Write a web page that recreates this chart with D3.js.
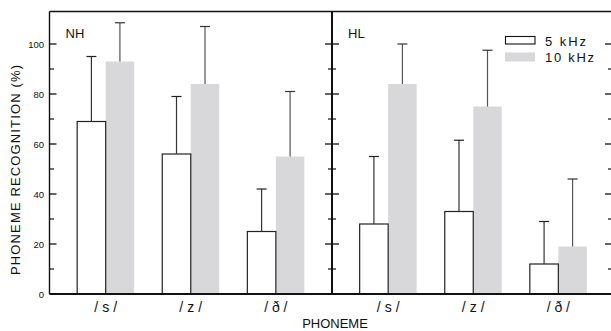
<!DOCTYPE html>
<html><head><meta charset="utf-8">
<script src="https://cdn.jsdelivr.net/npm/d3@7"></script>
<style>
html,body{margin:0;padding:0;background:#fff;}
svg{display:block;font-family:"Liberation Sans",Arial,sans-serif;}
</style></head>
<body><svg id="c" width="611" height="331"></svg>
<script>
const categories = ["/s/", "/z/", "/ð/"];
const panels = ["NH", "HL"];
const series = ["5 kHz", "10 kHz"];
// means and SDs (upper error bars) per panel
const nh5 = [69, 56, 25];
const nh5sd = [26, 23, 17];
const nh10 = [93, 84, 55];
const nh10sd = [15.5, 23, 26];
const hl5 = [28, 33, 12];
const hl5sd = [27, 28.5, 17];
const hl10 = [84, 75, 19];
const hl10sd = [16, 22.5, 27];
const yTicks = [0, 20, 40, 60, 80, 100];
const yMinor = [10, 30, 50, 70, 90];

const svg = d3.select("#c");
const panelW = 282.5;
const left0 = 49.5;
const y = d3.scaleLinear().domain([0, 113]).range([294, 11.5]);
const panelData = [
  {name: panels[0], s5: nh5, e5: nh5sd, s10: nh10, e10: nh10sd, left: left0},
  {name: panels[1], s5: hl5, e5: hl5sd, s10: hl10, e10: hl10sd, left: left0 + panelW}
];
const bw = 28.5, cap = 5;

panelData.forEach(p => {
  const x = d3.scalePoint().domain(categories).range([p.left, p.left + panelW]).padding(0.66);
  const g = svg.append("g");
  categories.forEach((c, i) => {
    const cx = x(c);
    g.append("rect").attr("x", cx).attr("y", y(p.s10[i])).attr("width", bw)
      .attr("height", y(0) - y(p.s10[i])).attr("fill", "#d8d8da");
    const gx = cx + bw / 2;
    g.append("line").attr("x1", gx).attr("x2", gx).attr("y1", y(p.s10[i])).attr("y2", y(p.s10[i] + p.e10[i]))
      .attr("stroke", "#555").attr("stroke-width", 1.2);
    g.append("line").attr("x1", gx - cap).attr("x2", gx + cap).attr("y1", y(p.s10[i] + p.e10[i])).attr("y2", y(p.s10[i] + p.e10[i]))
      .attr("stroke", "#333").attr("stroke-width", 1.2);
    g.append("rect").attr("x", cx - bw).attr("y", y(p.s5[i])).attr("width", bw)
      .attr("height", y(0) - y(p.s5[i])).attr("fill", "#fff").attr("stroke", "#222").attr("stroke-width", 1.2);
    const wx = cx - bw / 2;
    g.append("line").attr("x1", wx).attr("x2", wx).attr("y1", y(p.s5[i])).attr("y2", y(p.s5[i] + p.e5[i]))
      .attr("stroke", "#333").attr("stroke-width", 1.2);
    g.append("line").attr("x1", wx - cap).attr("x2", wx + cap).attr("y1", y(p.s5[i] + p.e5[i])).attr("y2", y(p.s5[i] + p.e5[i]))
      .attr("stroke", "#222").attr("stroke-width", 1.2);
    g.append("text").attr("x", cx).attr("y", 312).attr("text-anchor", "middle")
      .attr("font-size", 14).attr("textLength", 23).attr("lengthAdjust", "spacing").attr("fill", "#111").text(c);
  });
  g.append("text").attr("x", p.left + 16).attr("y", 38)
    .attr("font-size", 13).attr("fill", "#111").text(p.name);
});

const right = left0 + 2 * panelW;
svg.append("line").attr("x1", left0).attr("x2", right).attr("y1", y(0)).attr("y2", y(0)).attr("stroke", "#111").attr("stroke-width", 2);
svg.append("line").attr("x1", left0).attr("x2", right).attr("y1", y(113)).attr("y2", y(113)).attr("stroke", "#111").attr("stroke-width", 1.4);
svg.append("line").attr("x1", left0).attr("x2", left0).attr("y1", y(0)).attr("y2", y(113)).attr("stroke", "#111").attr("stroke-width", 1.4);
svg.append("line").attr("x1", left0 + panelW).attr("x2", left0 + panelW).attr("y1", y(0)).attr("y2", y(113)).attr("stroke", "#111").attr("stroke-width", 2);
svg.append("line").attr("x1", 613).attr("x2", 613).attr("y1", y(0)).attr("y2", y(113)).attr("stroke", "#111").attr("stroke-width", 2);

yTicks.forEach(t => {
  svg.append("line").attr("x1", left0).attr("x2", left0 + 7).attr("y1", y(t)).attr("y2", y(t)).attr("stroke", "#111").attr("stroke-width", 1.3);
  svg.append("text").attr("x", 44).attr("y", y(t) + 3.5).attr("text-anchor", "end").attr("font-size", 9.5).attr("fill", "#111").text(t);
});
yMinor.forEach(t => {
  svg.append("line").attr("x1", left0).attr("x2", left0 + 4.5).attr("y1", y(t)).attr("y2", y(t)).attr("stroke", "#111").attr("stroke-width", 1.2);
});
[left0 + panelW, 612].forEach(ax => {
  yTicks.filter(t => t > 0).forEach(t => {
    svg.append("line").attr("x1", ax - 7).attr("x2", ax + 7).attr("y1", y(t)).attr("y2", y(t)).attr("stroke", "#111").attr("stroke-width", 1.3);
  });
  yMinor.forEach(t => {
    svg.append("line").attr("x1", ax - 4).attr("x2", ax + 4).attr("y1", y(t)).attr("y2", y(t)).attr("stroke", "#111").attr("stroke-width", 1.2);
  });
});

const lg = svg.append("g");
lg.append("rect").attr("x", 505.5).attr("y", 36.5).attr("width", 29.5).attr("height", 7.5).attr("fill", "#fff").attr("stroke", "#111").attr("stroke-width", 1.1);
lg.append("rect").attr("x", 505).attr("y", 52.5).attr("width", 30).attr("height", 9).attr("fill", "#d8d8da");
lg.append("text").attr("x", 545).attr("y", 45.5).attr("font-size", 13).attr("textLength", 41).attr("lengthAdjust", "spacing").attr("fill", "#111").text(series[0]);
lg.append("text").attr("x", 545).attr("y", 61.5).attr("font-size", 13).attr("textLength", 49).attr("lengthAdjust", "spacing").attr("fill", "#111").text(series[1]);

svg.append("text").attr("x", 335).attr("y", 328).attr("text-anchor", "middle").attr("font-size", 13).attr("fill", "#111").text("PHONEME");
svg.append("text").attr("transform", "translate(20,170) rotate(-90)").attr("text-anchor", "middle")
  .attr("font-size", 13).attr("textLength", 210).attr("lengthAdjust", "spacing").attr("fill", "#111").text("PHONEME RECOGNITION (%)");
</script></body></html>
